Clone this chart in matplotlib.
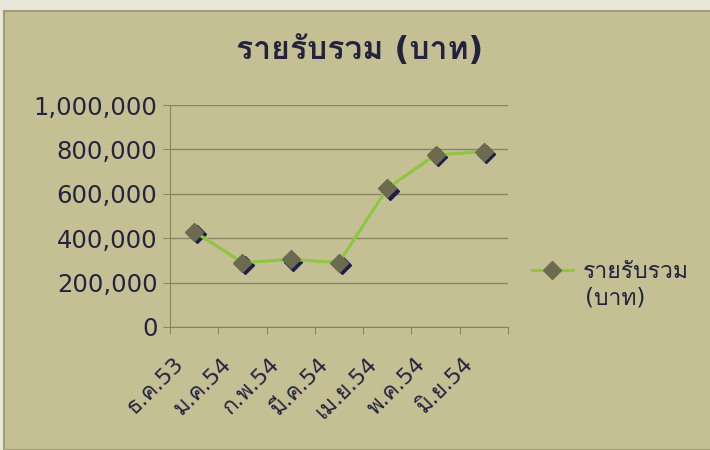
import numpy as np
import matplotlib
matplotlib.use("Agg")
import matplotlib.pyplot as plt
from matplotlib import font_manager as fm
from matplotlib.ft2font import FT2Font
from matplotlib.patches import Rectangle
from matplotlib.transforms import offset_copy, ScaledTranslation
from matplotlib.ticker import FuncFormatter, FixedLocator

# ข้อมูล
เดือน = ["ธ.ค.53", "ม.ค.54", "ก.พ.54", "มี.ค.54", "เม.ย.54", "พ.ค.54", "มิ.ย.54"]
รายรับ = [430000, 290000, 305000, 290000, 625000, 775000, 790000]
ชื่อกราฟ = "รายรับรวม (บาท)"
ชื่อชุดข้อมูล = ["รายรับรวม", "(บาท)"]

# หาฟอนต์ที่มีตัวอักษรไทย
ลำดับที่ชอบ = ["Tahoma", "Loma", "Garuda", "Noto Sans Thai", "Sarabun", "Kinnari", "Norasi"]
ฟอนต์ไทย = []
for f in fm.fontManager.ttflist:
    try:
        if ord("ร") in FT2Font(f.fname).get_charmap():
            ฟอนต์ไทย.append(f.name)
    except Exception:
        pass
ฟอนต์ไทย = sorted(set(ฟอนต์ไทย), key=lambda n: ลำดับที่ชอบ.index(n) if n in ลำดับที่ชอบ else 99)
plt.rcParams["font.family"] = ["DejaVu Sans"] + ฟอนต์ไทย[:1]

สีพื้น = "#c5c094"
สีตัวอักษร = "#23233f"
สีเส้นแกน = "#8a8466"

fig = plt.figure(figsize=(7.1, 4.5), dpi=100, facecolor="#e8e7da")
fig.patches.append(Rectangle((4 / 710, 0), 1, (450 - 11) / 450, transform=fig.transFigure,
                             facecolor=สีพื้น, edgecolor="#a39d74", lw=1.5, zorder=-5))

ax = fig.add_axes([170 / 710, (450 - 327) / 450, (508 - 170) / 710, (327 - 105) / 450])
ax.set_facecolor("none")
ax.set_zorder(2)

x = np.arange(len(เดือน))

# เงาของจุด
เงา = offset_copy(ax.transData, fig=fig, x=2.5, y=-2.5, units="dots")
ax.plot(x, รายรับ, linestyle="none", marker="D", ms=9, color="#1c1f4a", transform=เงา, zorder=3)
ax.plot(x, รายรับ, color="#8dc63f", lw=2.2, marker="D", ms=9, mfc="#6c6b4f", mec="#6c6b4f",
        zorder=4, label=ชื่อชุดข้อมูล[0])

ax.set_xlim(-0.5, len(เดือน) - 0.5)
ax.set_ylim(0, 1000000)
ax.yaxis.set_major_locator(FixedLocator(np.arange(0, 1000001, 200000)))
ax.yaxis.set_major_formatter(FuncFormatter(lambda v, p: f"{int(v):,}"))
ax.grid(axis="y", color=สีเส้นแกน, lw=1)
ax.set_axisbelow(True)

ax.set_xticks(np.arange(-0.5, len(เดือน)), labels=[""] * (len(เดือน) + 1))
ax.set_xticks(x, labels=เดือน, minor=True)
ax.tick_params(axis="x", which="major", length=5, color=สีเส้นแกน)
ax.tick_params(axis="x", which="minor", length=0, pad=4)
ax.tick_params(axis="y", length=5, color=สีเส้นแกน, labelsize=17.5, labelcolor=สีตัวอักษร, pad=4)
เลื่อน = ScaledTranslation(-0.21, -0.21, fig.dpi_scale_trans)
for lab in ax.get_xticklabels(minor=True):
    lab.set_rotation(45)
    lab.set_ha("right")
    lab.set_va("top")
    lab.set_rotation_mode("anchor")
    lab.set_fontsize(16)
    lab.set_color(สีตัวอักษร)
    lab.set_transform(lab.get_transform() + เลื่อน)

for s in ["top", "right"]:
    ax.spines[s].set_visible(False)
ax.spines["left"].set_color(สีเส้นแกน)
ax.spines["bottom"].set_color(สีเส้นแกน)

fig.text(360 / 710, (450 - 50) / 450, ชื่อกราฟ, ha="center", va="center",
         fontsize=23, fontweight="bold", color=สีตัวอักษร)

leg = ax.legend(loc="center left", bbox_to_anchor=(511 / 710, (450 - 272) / 450),
                bbox_transform=fig.transFigure, frameon=False,
                prop={"size": 16.5},
                handlelength=1.8, handletextpad=0.45, labelcolor=สีตัวอักษร)
fig.text(585 / 710, (450 - 298) / 450, ชื่อชุดข้อมูล[1], ha="left", va="center",
         fontsize=16.5, color=สีตัวอักษร)

fig.savefig("out.png", dpi=100, facecolor=fig.get_facecolor())
